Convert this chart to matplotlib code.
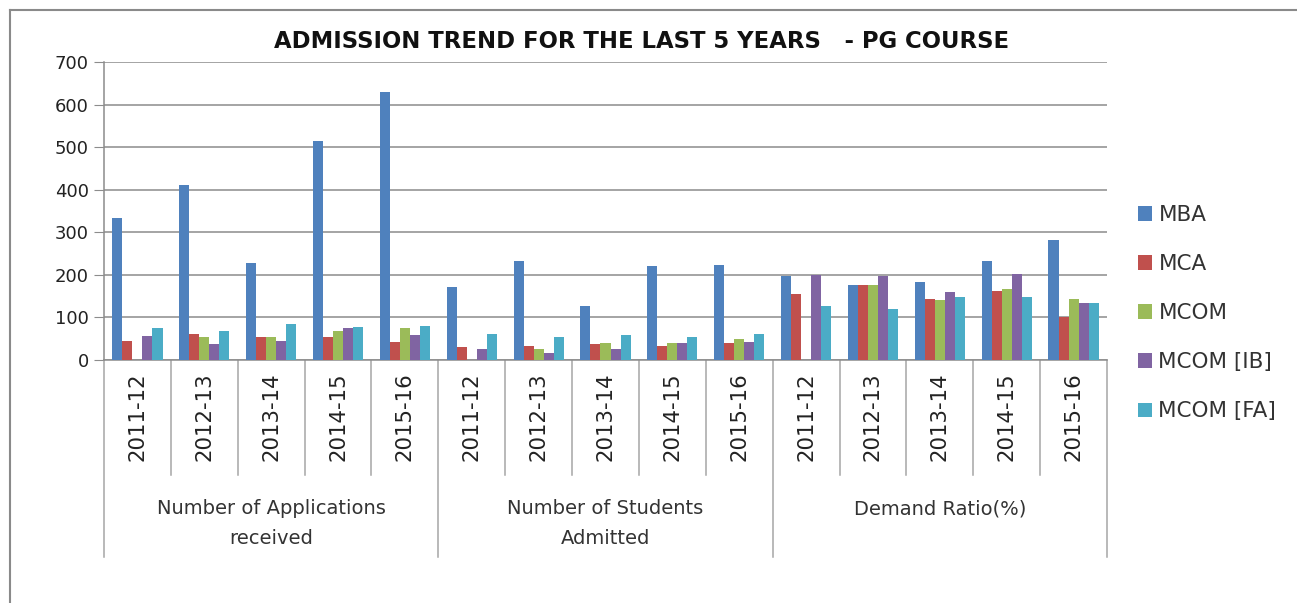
import numpy as np
import matplotlib
matplotlib.use("Agg")
import matplotlib.pyplot as plt
from matplotlib.patches import Patch
from matplotlib.lines import Line2D
import matplotlib.transforms as mtrans

plt.rcParams['font.family'] = ['DejaVu Sans']

groups = ["Number of Applications\nreceived", "Number of Students\nAdmitted", "Demand Ratio(%)"]
years = ["2011-12", "2012-13", "2013-14", "2014-15", "2015-16"]
series = ["MBA", "MCA", "MCOM", "MCOM [IB]", "MCOM [FA]"]
colors = ["#4F81BD", "#C0504D", "#9BBB59", "#8064A2", "#4BACC6"]

nan = np.nan
mba = [334, 410, 229, 515, 630, 172, 233, 127, 220, 223, 197, 177, 183, 232, 283]
mca = [45, 61, 55, 55, 42, 31, 34, 37, 33, 41, 154, 177, 144, 163, 101]
mcom = [nan, 53, 55, 67, 74, nan, 27, 39, 39, 50, nan, 177, 140, 166, 143]
mcom_ib = [56, 37, 45, 76, 58, 27, 17, 27, 41, 43, 200, 198, 160, 201, 135]
mcom_fa = [76, 67, 85, 78, 81, 60, 55, 59, 55, 60, 126, 120, 148, 148, 135]
values = [mba, mca, mcom, mcom_ib, mcom_fa]

W, H = 1297, 603
fig = plt.figure(figsize=(W / 100, H / 100), dpi=100)
ax = fig.add_axes([104 / W, 1 - 360 / H, (1107 - 104) / W, (360 - 62) / H])

n = len(groups) * len(years)
x = np.arange(n)
bw = 0.15
for i, (name, vals, c) in enumerate(zip(series, values, colors)):
    ax.bar(x + (i - 2) * bw, vals, width=bw, color=c, label=name, zorder=3)

ax.set_xlim(-0.5, n - 0.5)
ax.set_ylim(0, 700)
ax.set_yticks(np.arange(0, 701, 100))
ax.yaxis.grid(True, color="#8c8c8c", linewidth=1.1, zorder=0)
ax.tick_params(axis="y", length=7, color="#8c8c8c", labelsize=13, pad=4, labelcolor="#222222")
for s in ["top", "right"]:
    ax.spines[s].set_visible(False)
ax.spines["left"].set_color("#8c8c8c")
ax.spines["bottom"].set_color("#8c8c8c")
ax.spines["left"].set_linewidth(1.1)
ax.spines["bottom"].set_linewidth(1.1)

ax.set_xticks(x)
ax.set_xticklabels(years * len(groups), rotation=90, fontsize=15.3, color="#222222")
ax.tick_params(axis="x", length=0, pad=9)

trans = mtrans.blended_transform_factory(ax.transData, ax.transAxes)
for b in np.arange(-0.5, n, 1.0):
    major = (round(b + 0.5) % len(years)) == 0
    ax.add_line(Line2D([b, b], [0, -0.661 if major else -0.386], transform=trans,
                       color="#a6a6a6", linewidth=1.1, clip_on=False))

for gi, g in enumerate(groups):
    cx = gi * len(years) + (len(years) - 1) / 2
    ax.text(cx, -0.468, g, transform=trans, ha="center", va="top", fontsize=14,
            color="#333333", linespacing=1.7)

fig.text(642 / W, 1 - 41 / H, "ADMISSION TREND FOR THE LAST 5 YEARS   - PG COURSE",
         ha="center", va="center", fontsize=16.4, fontweight="bold", color="#111111")

handles = [Patch(facecolor=c, edgecolor="none") for c in colors]
fig.legend(handles, series, loc="upper left", bbox_to_anchor=(1138 / W, 1 - 205 / H),
           frameon=False, fontsize=15.5, handlelength=0.65, handleheight=0.65,
           handletextpad=0.3, labelspacing=1.35, borderaxespad=0, borderpad=0,
           labelcolor="#333333")

fig.add_artist(Line2D([10 / W, 10 / W], [0, 1 - 10 / H], transform=fig.transFigure,
                      color="#8a8a8a", linewidth=1.5))
fig.add_artist(Line2D([10 / W, 1], [1 - 10 / H, 1 - 10 / H], transform=fig.transFigure,
                      color="#8a8a8a", linewidth=1.5))

fig.savefig("out.png", dpi=100, facecolor="white")
